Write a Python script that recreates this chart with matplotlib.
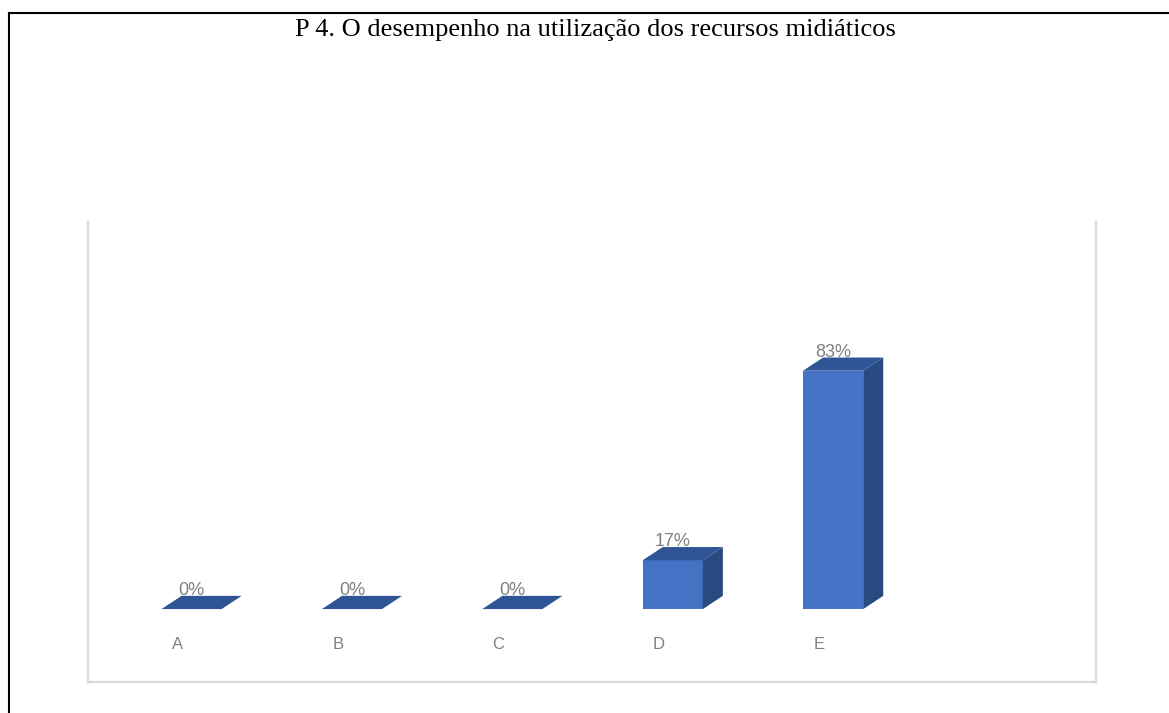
import numpy as np
import matplotlib
matplotlib.use("Agg")
import matplotlib.pyplot as plt
from matplotlib.patches import Polygon
from matplotlib.lines import Line2D


# ---------------- DATA ----------------
title = "P 4. O desempenho na utilização dos recursos midiáticos"
categories = ["A", "B", "C", "D", "E"]
values = [0, 0, 0, 17, 83]
labels = ["0%", "0%", "0%", "17%", "83%"]


# ---------------- STYLE ----------------
front_color = "#4472C4"
top_color = "#2F5597"
side_color = "#284A80"
text_gray = "#808080"
box_gray = "#D9D9D9"

bar_w = 0.375      # front face width (category units)
shift = 0.087      # bar front sits a bit right of its label
dx = 0.125         # depth offset in x (category units)
dy = 4.6           # depth offset in y (percent units)

W, H = 1169, 713
fig = plt.figure(figsize=(W / 100, H / 100), dpi=100)

# outer page frame (only top and left edge visible)
fig.add_artist(Line2D([9 / W, 1], [1 - 13 / H, 1 - 13 / H], color="black", lw=1.5,
                      transform=fig.transFigure))
fig.add_artist(Line2D([9 / W, 9 / W], [0, 1 - 13 / H], color="black", lw=1.5,
                      transform=fig.transFigure))

fig.text(595 / W, 1 - 36 / H, title, ha="center", va="baseline",
         family="Liberation Serif", fontsize=19, color="black")

# chart box
left, right, top, bottom = 88, 1096, 222, 682
ax = fig.add_axes([left / W, 1 - bottom / H, (right - left) / W, (bottom - top) / H])
ax.set_xlim(-0.5586, 5.726)
ax.set_ylim(-25.4, 134.8)
ax.set_xticks([])
ax.set_yticks([])
ax.spines["top"].set_visible(False)
for s in ["left", "right", "bottom"]:
    ax.spines[s].set_color(box_gray)
    ax.spines[s].set_linewidth(1.6)

x = np.arange(len(categories))

# ---------------- 3D BARS ----------------
for xi, v, lab, cat in zip(x, values, labels, categories):
    x0 = xi + shift - bar_w / 2
    x1 = xi + shift + bar_w / 2
    if v > 0:
        ax.bar(xi + shift, v, width=bar_w, color=front_color, zorder=2)
        side = Polygon([(x1, 0), (x1 + dx, dy), (x1 + dx, v + dy), (x1, v)],
                       closed=True, facecolor=side_color, edgecolor="none", zorder=2)
        ax.add_patch(side)
    topf = Polygon([(x0, v), (x1, v), (x1 + dx, v + dy), (x0 + dx, v + dy)],
                   closed=True, facecolor=top_color, edgecolor="none", zorder=2)
    ax.add_patch(topf)

    ax.text(xi + shift, v + dy + 1.8, lab, ha="center", va="center",
            family="Liberation Sans", fontsize=13, color=text_gray, zorder=3)
    ax.text(xi, -12.5, cat, ha="center", va="center",
            family="Liberation Sans", fontsize=12, color=text_gray)

fig.savefig("out.png", dpi=100)
